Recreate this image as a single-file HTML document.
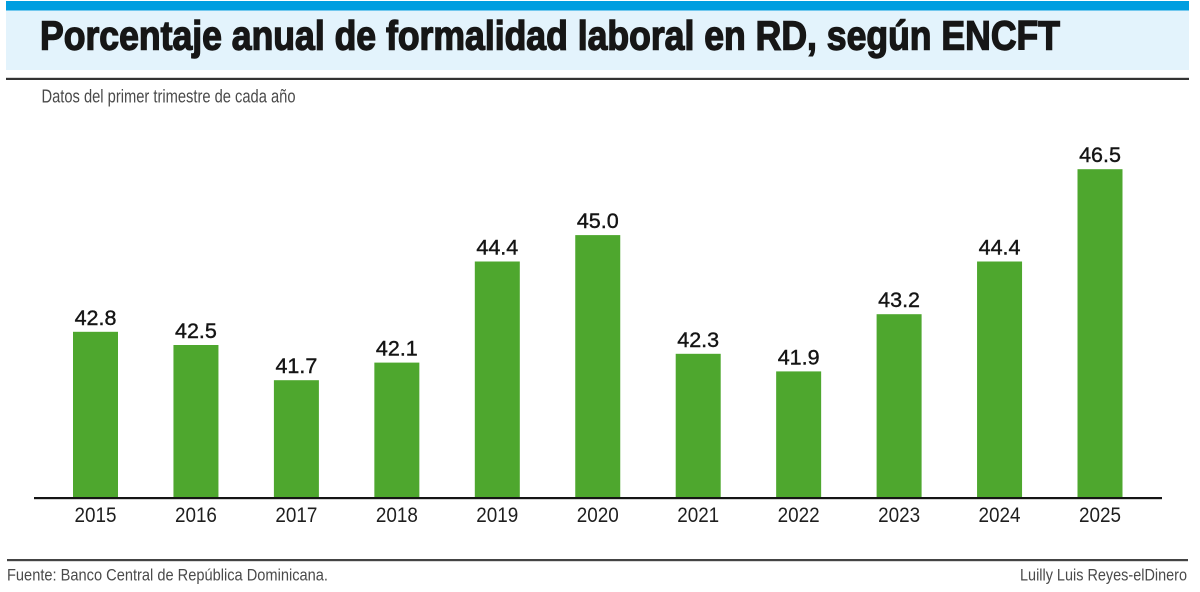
<!DOCTYPE html>
<html>
<head>
<meta charset="utf-8">
<style>
  html,body{margin:0;padding:0;background:#fff;}
  svg{display:block;}
  text{font-family:"Liberation Sans",sans-serif;}
</style>
</head>
<body>
<svg width="1200" height="592" viewBox="0 0 1200 592" xmlns="http://www.w3.org/2000/svg">
  <rect x="0" y="0" width="1200" height="592" fill="#ffffff"/>
  <!-- header -->
  <rect x="6" y="1" width="1183" height="69" fill="#e3f3fc"/>
  <rect x="6" y="1" width="1183" height="9.5" fill="#009ee0"/>
  <rect x="6" y="77.8" width="1183" height="2.2" fill="#333333"/>
  <text x="40" y="49.3" font-size="41" font-weight="bold" fill="#161616" stroke="#161616" stroke-width="1.4" textLength="1020" lengthAdjust="spacingAndGlyphs">Porcentaje anual de formalidad laboral en RD, según ENCFT</text>
  <text x="41.5" y="102.7" font-size="18.5" fill="#4a4a4a" textLength="254" lengthAdjust="spacingAndGlyphs">Datos del primer trimestre de cada año</text>

  <!-- bars -->
  <g fill="#4ea72e">
    <rect x="73" y="331.8" width="45" height="166.2"/>
    <rect x="173.45" y="345.0" width="45" height="153"/>
    <rect x="273.9" y="380.2" width="45" height="117.8"/>
    <rect x="374.35" y="362.6" width="45" height="135.4"/>
    <rect x="474.8" y="261.5" width="45" height="236.5"/>
    <rect x="575.25" y="235.1" width="45" height="262.9"/>
    <rect x="675.7" y="353.8" width="45" height="144.2"/>
    <rect x="776.15" y="371.4" width="45" height="126.6"/>
    <rect x="876.6" y="314.2" width="45" height="183.8"/>
    <rect x="977.05" y="261.5" width="45" height="236.5"/>
    <rect x="1077.5" y="169.2" width="45" height="328.8"/>
  </g>

  <!-- value labels -->
  <g font-size="21.5" fill="#141414" stroke="#141414" stroke-width="0.4" text-anchor="middle">
    <text x="95.5" y="324.8">42.8</text>
    <text x="195.95" y="338.0">42.5</text>
    <text x="296.4" y="373.2">41.7</text>
    <text x="396.85" y="355.6">42.1</text>
    <text x="497.3" y="254.5">44.4</text>
    <text x="597.75" y="228.1">45.0</text>
    <text x="698.2" y="346.8">42.3</text>
    <text x="798.65" y="364.4">41.9</text>
    <text x="899.1" y="307.2">43.2</text>
    <text x="999.55" y="254.5">44.4</text>
    <text x="1100" y="162.2">46.5</text>
  </g>

  <!-- axis line -->
  <rect x="34" y="497" width="1128" height="2.2" fill="#151515"/>

  <!-- year labels -->
  <g font-size="21" fill="#1e1e1e">
    <text x="74.5" y="522" textLength="42" lengthAdjust="spacingAndGlyphs">2015</text>
    <text x="174.95" y="522" textLength="42" lengthAdjust="spacingAndGlyphs">2016</text>
    <text x="275.4" y="522" textLength="42" lengthAdjust="spacingAndGlyphs">2017</text>
    <text x="375.85" y="522" textLength="42" lengthAdjust="spacingAndGlyphs">2018</text>
    <text x="476.3" y="522" textLength="42" lengthAdjust="spacingAndGlyphs">2019</text>
    <text x="576.75" y="522" textLength="42" lengthAdjust="spacingAndGlyphs">2020</text>
    <text x="677.2" y="522" textLength="42" lengthAdjust="spacingAndGlyphs">2021</text>
    <text x="777.65" y="522" textLength="42" lengthAdjust="spacingAndGlyphs">2022</text>
    <text x="878.1" y="522" textLength="42" lengthAdjust="spacingAndGlyphs">2023</text>
    <text x="978.55" y="522" textLength="42" lengthAdjust="spacingAndGlyphs">2024</text>
    <text x="1079" y="522" textLength="42" lengthAdjust="spacingAndGlyphs">2025</text>
  </g>

  <!-- footer -->
  <rect x="7" y="559" width="1181" height="2.2" fill="#444444"/>
  <text x="7" y="580.5" font-size="17" fill="#4a4a4a" textLength="321" lengthAdjust="spacingAndGlyphs">Fuente: Banco Central de República Dominicana.</text>
  <text x="1020" y="580.5" font-size="17" fill="#4a4a4a" textLength="167" lengthAdjust="spacingAndGlyphs">Luilly Luis Reyes-elDinero</text>
</svg>
</body>
</html>
